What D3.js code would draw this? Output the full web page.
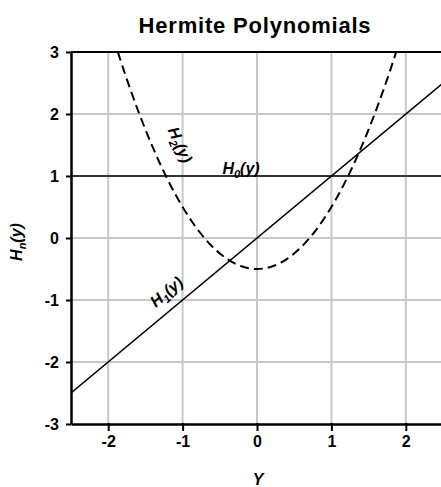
<!DOCTYPE html>
<html><head><meta charset="utf-8">
<script src="https://cdn.jsdelivr.net/npm/d3@7"></script>
<style>body{margin:0;background:#fff}svg{display:block}text{font-family:Arial,"Liberation Sans",sans-serif;font-weight:bold;fill:#000}</style>
</head><body><svg id="c" width="441" height="487"></svg>
<script>
const xTicks = [-2, -1, 0, 1, 2];
const yTicks = [-3, -2, -1, 0, 1, 2, 3];
const h0 = [[-2.5, 1], [2.5, 1]];
const h1 = [[-2.5, -2.5], [2.5, 2.5]];
const h2x = [-1.87,-1.8,-1.7,-1.6,-1.5,-1.4,-1.3,-1.2,-1.1,-1.0,-0.9,-0.8,-0.7,-0.6,-0.5,-0.4,-0.3,-0.2,-0.1,0,0.1,0.2,0.3,0.4,0.5,0.6,0.7,0.8,0.9,1.0,1.1,1.2,1.3,1.4,1.5,1.6,1.7,1.8,1.87];
const h2y = [3.0,2.74,2.39,2.06,1.75,1.46,1.19,0.94,0.71,0.50,0.31,0.14,-0.01,-0.14,-0.25,-0.34,-0.41,-0.46,-0.49,-0.50,-0.49,-0.46,-0.41,-0.34,-0.25,-0.14,-0.01,0.14,0.31,0.50,0.71,0.94,1.19,1.46,1.75,2.06,2.39,2.74,3.0];

const svg = d3.select("#c");
const L = 71, R = 443, T = 52, B = 424;
const x = d3.scaleLinear().domain([-2.5, 2.5]).range([L, R]);
const y = d3.scaleLinear().domain([-3, 3]).range([B, T]);

// grid
svg.append("g").selectAll("line").data(xTicks).join("line")
  .attr("x1", d => x(d)).attr("x2", d => x(d)).attr("y1", T).attr("y2", B)
  .attr("stroke", "#c8c8c8").attr("stroke-width", 2);
svg.append("g").selectAll("line").data(yTicks.filter(d => d > -3 && d < 3)).join("line")
  .attr("x1", L).attr("x2", R).attr("y1", d => y(d)).attr("y2", d => y(d))
  .attr("stroke", "#c8c8c8").attr("stroke-width", 2);

const line = d3.line().x(d => x(d[0])).y(d => y(d[1]));
svg.append("defs").append("clipPath").attr("id", "clip").append("rect")
  .attr("x", L).attr("y", T).attr("width", R - L).attr("height", B - T);
const g = svg.append("g").attr("clip-path", "url(#clip)");
g.append("path").attr("d", line(h0)).attr("fill", "none").attr("stroke", "#000").attr("stroke-width", 1.6);
g.append("path").attr("d", line(h1)).attr("fill", "none").attr("stroke", "#000").attr("stroke-width", 1.6);
g.append("path").attr("d", line.curve(d3.curveCatmullRom)(h2x.map((v, i) => [v, h2y[i]])))
  .attr("fill", "none").attr("stroke", "#000").attr("stroke-width", 2).attr("stroke-dasharray", "9,5");

// axes
const fmt = d => String(d);
const xa = svg.append("g").attr("transform", `translate(0,${B})`)
  .call(d3.axisBottom(x).tickValues(xTicks).tickSize(7).tickSizeOuter(0).tickFormat(fmt));
const ya = svg.append("g").attr("transform", `translate(${L},0)`)
  .call(d3.axisLeft(y).tickValues(yTicks).tickSize(5).tickSizeOuter(0).tickFormat(fmt));
[xa, ya].forEach(a => {
  a.select(".domain").attr("stroke", "#000").attr("stroke-width", 2.5);
  a.selectAll(".tick line").attr("stroke", "#000").attr("stroke-width", 2);
  a.selectAll(".tick text").attr("font-size", 16).attr("font-family", "Arial, Liberation Sans, sans-serif").attr("font-weight", "bold").attr("fill", "#000");
});
xa.selectAll(".tick line").attr("y1", -1);
xa.selectAll(".tick text").attr("y", 12).attr("dy", "0.71em");
ya.selectAll(".tick text").attr("x", -12);
// top border
svg.append("line").attr("x1", L).attr("x2", R).attr("y1", T).attr("y2", T).attr("stroke", "#000").attr("stroke-width", 2);

// title & axis labels
svg.append("text").attr("x", 255).attr("y", 33).attr("text-anchor", "middle").attr("font-size", 22).attr("letter-spacing", 0.8).text("Hermite Polynomials");
svg.append("text").attr("x", 258).attr("y", 485).attr("text-anchor", "middle").attr("font-size", 16).attr("font-style", "italic").text("Y");
const yl = svg.append("text").attr("transform", "translate(22,242) rotate(-90)").attr("text-anchor", "middle").attr("font-size", 16).attr("font-style", "italic");
yl.append("tspan").text("H");
yl.append("tspan").attr("font-size", 11).attr("dy", 4).text("n");
yl.append("tspan").attr("dy", -4).text("(y)");

function label(cx, cy, ang, sub) {
  const t = svg.append("text").attr("transform", `translate(${cx},${cy}) rotate(${ang})`)
    .attr("text-anchor", "middle").attr("font-size", 16).attr("font-style", "italic");
  t.append("tspan").text("H");
  t.append("tspan").attr("font-size", 11).attr("dy", 4).text(sub);
  t.append("tspan").attr("dy", -4).text("(y)");
}
label(175, 147, 66, "2");
label(241, 174, 0, "0");
label(170, 296, -40, "1");
</script></body></html>
